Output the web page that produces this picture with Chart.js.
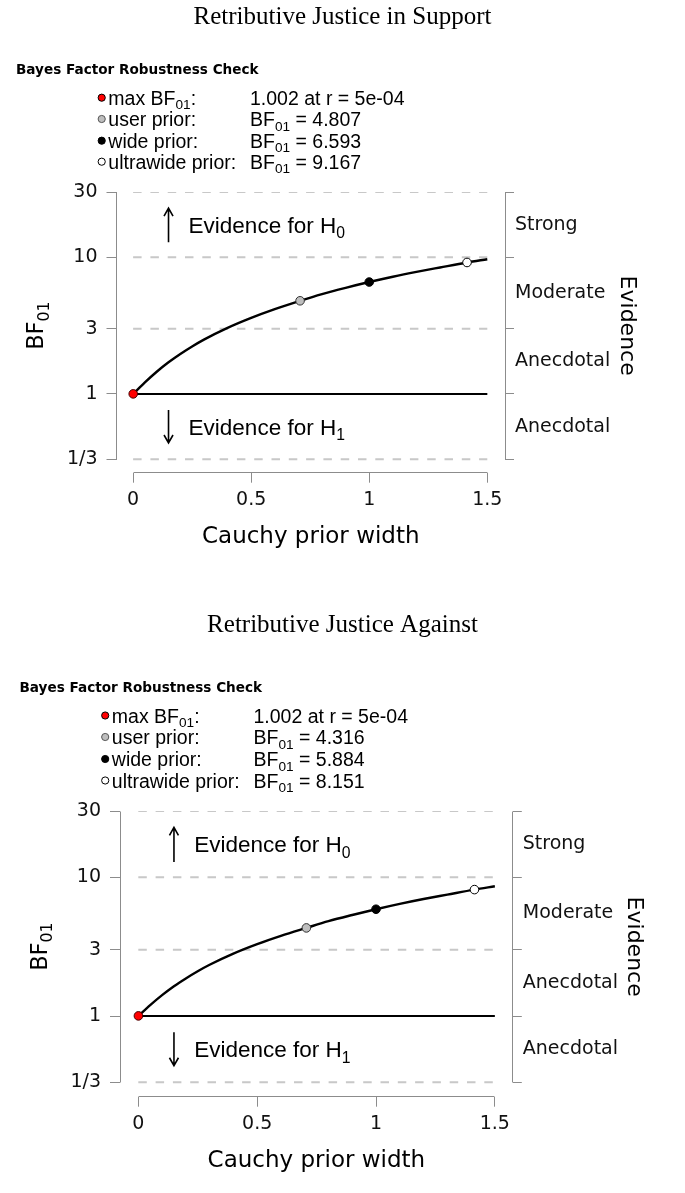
<!DOCTYPE html>
<html>
<head>
<meta charset="utf-8">
<script src="https://cdn.jsdelivr.net/npm/chart.js@4.4.1/dist/chart.umd.min.js"></script>
<style>
  body { margin: 0; background: #fff; }
  canvas { display: block; }
</style>
</head>
<body>
<canvas id="support" width="685" height="597"></canvas>
<canvas id="against" width="685" height="596"></canvas>
<script>
const priorWidths = [0, 0.05, 0.1, 0.15, 0.2, 0.25, 0.3, 0.4, 0.5, 0.6, 0.707, 0.8, 0.9, 1.0, 1.1, 1.2, 1.3, 1.414, 1.5];
const supportBF = [1.0, 1.216, 1.455, 1.706, 1.963, 2.228, 2.5, 3.048, 3.606, 4.178, 4.807, 5.38, 5.98, 6.593, 7.21, 7.82, 8.43, 9.167, 9.68];
const againstBF = [1.0, 1.197, 1.413, 1.639, 1.866, 2.102, 2.341, 2.817, 3.296, 3.781, 4.316, 4.83, 5.35, 5.884, 6.43, 6.97, 7.5, 8.151, 8.61];

// max / user / wide / ultrawide prior
const markerR = [0.0005, 0.7071, 1, 1.4142];
const supportMarkers = [1.002, 4.807, 6.593, 9.167];
const againstMarkers = [1.002, 4.316, 5.884, 8.151];
const markerNames = ['max', 'user prior:', 'wide prior:', 'ultrawide prior:'];

const xTicks = [0, 0.5, 1, 1.5];
const xTickLabels = ['0', '0.5', '1', '1.5'];
const yTicks = [1/3, 1, 3, 10, 30];
const yTickLabels = ['1/3', '1', '3', '10', '30'];
const evidenceLabels = ['Anecdotal', 'Anecdotal', 'Moderate', 'Strong'];

const supportTitle = 'Retributive Justice in Support';
const againstTitle = 'Retributive Justice Against';

const axisGray = '#8c8c8c';
const gridGray = '#c8c8c8';
const markerFill = ['#ff0000', '#bebebe', '#000000', '#ffffff'];

Chart.defaults.font.family = 'DejaVu Sans';
Chart.defaults.color = '#111';

// right axis: ticks on the bands' edges, band names in between
const evTicks = [];
const evLabels = [];
yTicks.forEach((v, i) => {
  evTicks.push(v); evLabels.push('');
  if (i < yTicks.length - 1) {
    evTicks.push(Math.sqrt(v * yTicks[i + 1]));
    evLabels.push(evidenceLabels[i]);
  }
});

function expFmt(r) {
  return r.toExponential(0).replace(/e([+-])(\d)$/, 'e$10$2');
}

function richText(ctx, parts, x, y, size, family, align, weight) {
  const sub = size * 0.7;
  const font = (p) => (weight || '') + ' ' + (p[1] ? sub : size) + 'px "' + family + '"';
  let w = 0;
  parts.forEach(p => { ctx.font = font(p); w += ctx.measureText(p[0]).width; });
  let cx = align === 'center' ? x - w / 2 : x;
  const base = y + size * 0.36;
  ctx.textBaseline = 'alphabetic';
  ctx.textAlign = 'left';
  parts.forEach(p => {
    ctx.font = font(p);
    ctx.fillText(p[0], cx, p[1] ? base + size * 0.24 : base);
    cx += ctx.measureText(p[0]).width;
  });
}

function arrow(ctx, x, y1, y2) {
  const d = y2 > y1 ? -1 : 1;
  ctx.beginPath();
  ctx.moveTo(x, y1); ctx.lineTo(x, y2);
  ctx.moveTo(x - 4.5, y2 + d * 8); ctx.lineTo(x, y2); ctx.lineTo(x + 4.5, y2 + d * 8);
  ctx.stroke();
}

const align = (p) => Math.round(p - 0.5) + 0.5;

const rStyle = {
  id: 'rStyle',
  beforeDatasetsDraw(chart) {
    const {ctx, chartArea: a, scales: {x, y}} = chart;
    const yTop = align(y.getPixelForValue(yTicks[yTicks.length - 1]));
    const yBot = align(y.getPixelForValue(yTicks[0]));
    ctx.save();
    ctx.strokeStyle = axisGray;
    ctx.lineWidth = 1;
    ctx.beginPath();
    ctx.moveTo(align(a.left), yTop); ctx.lineTo(align(a.left), yBot);
    ctx.moveTo(align(a.right), yTop); ctx.lineTo(align(a.right), yBot);
    ctx.moveTo(align(x.getPixelForValue(xTicks[0])), align(a.bottom));
    ctx.lineTo(align(x.getPixelForValue(xTicks[xTicks.length - 1])), align(a.bottom));
    ctx.stroke();
    ctx.restore();
  },
  afterDraw(chart, args, o) {
    const {ctx, chartArea: a, scales: {x, y}} = chart;
    ctx.save();
    ctx.fillStyle = '#000';

    ctx.font = '25px "Liberation Serif"';
    ctx.textAlign = 'center';
    ctx.textBaseline = 'middle';
    ctx.fillText(o.title, 342.5, o.titleY);

    richText(ctx, [['Bayes Factor Robustness Check']], a.left - 100.5, o.headY, 13.6, 'DejaVu Sans', 'left', 'bold');

    // legend of the four prior markers
    o.markers.forEach((bf, i) => {
      const ry = o.rowY[i];
      ctx.beginPath();
      ctx.arc(a.left - 14.8, ry, 3.6, 0, Math.PI * 2);
      ctx.fillStyle = markerFill[i];
      ctx.fill();
      ctx.lineWidth = 1;
      ctx.strokeStyle = i === 1 ? '#555' : '#000';
      ctx.stroke();
      ctx.fillStyle = '#000';
      const name = i === 0 ? [['max BF'], ['01', true], [':']] : [[markerNames[i]]];
      richText(ctx, name, a.left - 8.2, ry, 19.5, 'Liberation Sans', 'left');
      const val = i === 0
        ? [[bf.toFixed(3) + ' at r = ' + expFmt(markerR[0])]]
        : [['BF'], ['01', true], [' = ' + bf.toFixed(3)]];
      richText(ctx, val, a.left + 133.5, ry, 19.5, 'Liberation Sans', 'left');
    });

    const yMid = (y.getPixelForValue(yTicks[0]) + y.getPixelForValue(yTicks[yTicks.length - 1])) / 2;

    ctx.save();
    ctx.translate(a.left - 81.5, yMid);
    ctx.rotate(-Math.PI / 2);
    richText(ctx, [['BF'], ['01', true]], 0, 0, 22.5, 'DejaVu Sans', 'center');
    ctx.restore();

    ctx.save();
    ctx.translate(a.right + 123.5, yMid);
    ctx.rotate(Math.PI / 2);
    richText(ctx, [['Evidence']], 0, 0, 22, 'DejaVu Sans', 'center');
    ctx.restore();

    // evidence direction notes
    ctx.strokeStyle = '#000';
    ctx.lineWidth = 1.6;
    const ax = x.getPixelForValue(0.15);
    arrow(ctx, ax, y.getPixelForValue(12.9), y.getPixelForValue(22.9));
    arrow(ctx, ax, y.getPixelForValue(0.764), y.getPixelForValue(0.438));
    const tx = x.getPixelForValue(0.235);
    richText(ctx, [['Evidence for H'], ['0', true]], tx, y.getPixelForValue(Math.sqrt(yTicks[3] * yTicks[4])), 22.5, 'Liberation Sans', 'left');
    richText(ctx, [['Evidence for H'], ['1', true]], tx, y.getPixelForValue(Math.sqrt(yTicks[0] * yTicks[1])), 22.5, 'Liberation Sans', 'left');
    ctx.restore();
  }
};

function makeChart(id, bf, markers, L) {
  const last = xTicks.length - 1;
  const datasets = [
    {
      data: markerR.map((r, i) => ({x: r, y: markers[i]})),
      pointRadius: 4.3,
      pointBackgroundColor: markerFill,
      pointBorderColor: ['#400', '#333', '#000', '#000'],
      pointBorderWidth: 1,
      showLine: false,
      order: 0
    },
    {
      data: priorWidths.map((r, i) => ({x: r, y: bf[i]})),
      showLine: true,
      borderColor: '#000',
      borderWidth: 2.4,
      pointRadius: 0,
      cubicInterpolationMode: 'monotone',
      order: 1
    },
    {
      data: [{x: xTicks[0], y: 1}, {x: xTicks[last], y: 1}],
      showLine: true,
      borderColor: '#000',
      borderWidth: 2,
      pointRadius: 0,
      order: 2
    }
  ];
  yTicks.forEach(v => {
    datasets.push({
      data: [{x: xTicks[0], y: v}, {x: xTicks[last], y: v}],
      showLine: true,
      borderColor: gridGray,
      borderWidth: 2,
      borderDash: [8.5, 8.8],
      pointRadius: 0,
      order: 3
    });
  });

  return new Chart(document.getElementById(id), {
    type: 'scatter',
    data: {datasets},
    plugins: [rStyle],
    options: {
      responsive: false,
      animation: false,
      devicePixelRatio: 1,
      layout: {padding: {top: L.top, left: 0, right: 0, bottom: 0}},
      plugins: {
        legend: {display: false},
        tooltip: {enabled: false},
        rStyle: L
      },
      scales: {
        x: {
          type: 'linear',
          min: L.xMin,
          max: L.xMax,
          afterBuildTicks: s => { s.ticks = xTicks.map(v => ({value: v})); },
          afterFit: s => { s.height = L.height - L.bottom; s.paddingLeft = 0; s.paddingRight = 0; },
          grid: {drawOnChartArea: false, tickLength: 10, tickColor: axisGray, lineWidth: 1},
          border: {display: false},
          ticks: {
            autoSkip: false, maxRotation: 0, padding: 6,
            font: {size: 19},
            callback: (v, i) => xTickLabels[i]
          },
          title: {
            display: true,
            text: 'Cauchy prior width',
            font: {size: 23},
            color: '#000',
            padding: {top: 0, bottom: L.xTitlePad}
          }
        },
        y: {
          type: 'logarithmic',
          position: 'left',
          min: L.yMin,
          max: L.yMax,
          afterBuildTicks: s => { s.ticks = yTicks.map(v => ({value: v})); },
          afterFit: s => { s.width = L.left; s.paddingTop = 0; s.paddingBottom = 0; },
          grid: {drawOnChartArea: false, tickLength: 10, tickColor: axisGray, lineWidth: 1},
          border: {display: false},
          ticks: {
            autoSkip: false, padding: 9,
            font: {size: 19},
            callback: (v, i) => yTickLabels[i]
          }
        },
        y2: {
          type: 'logarithmic',
          position: 'right',
          min: L.yMin,
          max: L.yMax,
          afterBuildTicks: s => { s.ticks = evTicks.map(v => ({value: v})); },
          afterFit: s => { s.width = 685 - L.right; s.paddingTop = 0; s.paddingBottom = 0; },
          grid: {
            drawOnChartArea: false, tickLength: 9, lineWidth: 1,
            tickColor: c => (c.tick && c.tick.label === '') ? axisGray : 'rgba(0,0,0,0)'
          },
          border: {display: false},
          ticks: {
            autoSkip: false, padding: 1,
            font: {size: 19},
            callback: (v, i) => evLabels[i]
          }
        }
      }
    }
  });
}

makeChart('support', supportBF, supportMarkers, {
  title: supportTitle, titleY: 17, headY: 69, rowY: [97.7, 119, 140.7, 161.7],
  markers: supportMarkers,
  left: 116.5, right: 505, top: 192.1, bottom: 472.7, height: 597, xTitlePad: 46.2,
  xMin: -0.0703, xMax: 1.575, yMin: 0.2655, yMax: 30
});

makeChart('against', againstBF, againstMarkers, {
  title: againstTitle, titleY: 28, headY: 90, rowY: [118.5, 140, 162, 183.5],
  markers: againstMarkers,
  left: 120, right: 512.8, top: 214.1, bottom: 499.7, height: 596, xTitlePad: 18.2,
  xMin: -0.077, xMax: 1.5755, yMin: 0.262, yMax: 30
});
</script>
</body>
</html>
